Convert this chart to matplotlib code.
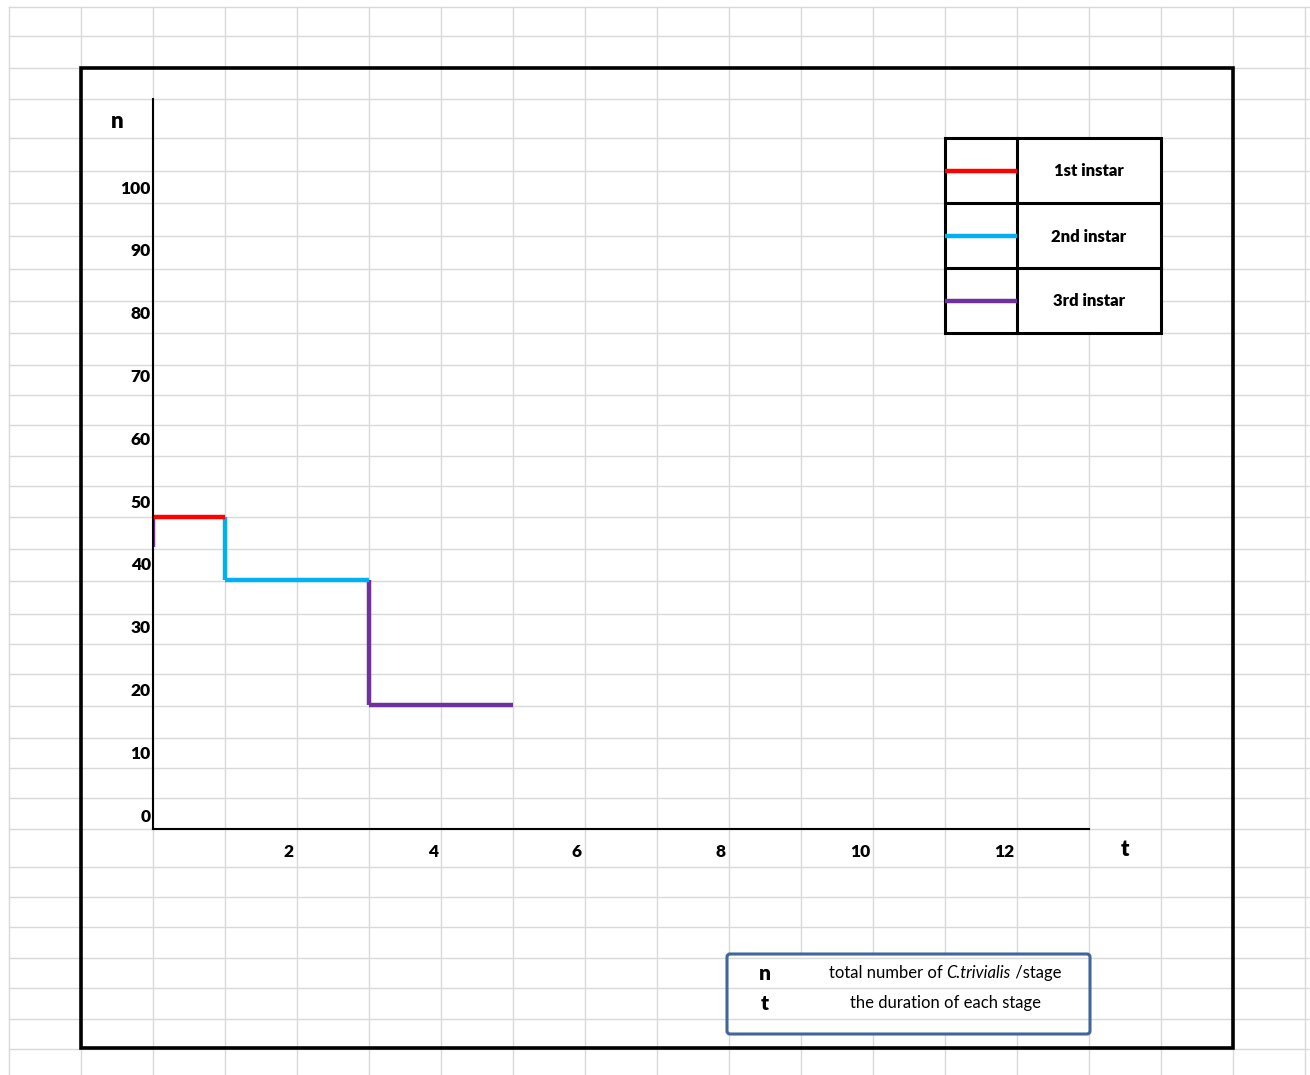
import matplotlib
matplotlib.use('Agg')
import matplotlib.pyplot as plt
from matplotlib import transforms as mtransforms
from matplotlib.patches import Rectangle, FancyBboxPatch

plt.rcParams['font.family'] = ['Lato', 'DejaVu Sans']

# ---------------- data ----------------
stages = ['1st instar', '2nd instar', '3rd instar']
stage_start = [0, 1, 3]
stage_end = [1, 3, 5]
stage_n = [47.5, 37.5, 17.5]
stage_colors = ['#ff0000', '#00b0f0', '#7030a0']
stray_seg = [47.5, 42.6]          # short purple piece lying on the n axis

y_ticks = [0, 10, 20, 30, 40, 50, 60, 70, 80, 90, 100]
x_ticks = [2, 4, 6, 8, 10, 12]
x_labels = ['2', '4', '6', '8', '10', '12']

note_keys = ['n', 't']
# each note is split in pieces: (text, style)
note_parts = [[('total number of ', 'normal'), ('C.trivialis', 'italic'), (' /stage', 'normal')],
              [('the duration of each stage', 'normal')]]

# ---------------- sheet layout (pixels) ----------------
W, H = 1310, 1075
cols = [9 + 72 * k for k in range(19)]
rows = [7, 36, 68, 99, 138, 171, 203, 236, 269, 301, 333, 365, 395, 425, 456,
        486, 517, 549, 581, 614, 644, 674, 706, 738, 768, 798, 829, 867, 897,
        927, 958, 988, 1019, 1049]
GRID = '#d9d9d9'
BOLD = 'heavy'

fig = plt.figure(figsize=(W / 100, H / 100), dpi=100)
bg = fig.add_axes([0, 0, 1, 1])
bg.set_xlim(0, W)
bg.set_ylim(H, 0)
bg.axis('off')

# spreadsheet grid (merged cells of the note box hide the column lines)
box_l, box_r, box_t, box_b = 727, 1090, 954, 1034
for x in cols:
    if box_l < x < box_r:
        bg.plot([x, x], [rows[0], box_t], color=GRID, lw=1.0, zorder=1)
        bg.plot([x, x], [box_b, H], color=GRID, lw=1.0, zorder=1)
    else:
        bg.plot([x, x], [rows[0], H], color=GRID, lw=1.0, zorder=1)
for y in rows:
    bg.plot([cols[0], W], [y, y], color=GRID, lw=1.0, zorder=1)

# outer frame
bg.add_patch(Rectangle((81, 68), 1233 - 81, 1048 - 68, fill=False,
                       edgecolor='black', lw=2.6, zorder=3))

# axis titles
bg.text(117, 121, 'n', fontsize=16, fontweight=BOLD, ha='center', va='center')
bg.text(1125, 850, 't', fontsize=16, fontweight=BOLD, ha='center', va='center')

# ---------------- chart ----------------
px0, px1 = 153, 1089
py_top, py_bot = 99, 829
ax = fig.add_axes([px0 / W, 1 - py_bot / H, (px1 - px0) / W, (py_bot - py_top) / H])
ax.patch.set_alpha(0)
ax.set_xlim(0, 13)
ax.set_ylim((815 - py_bot) / 6.28, (815 - py_top) / 6.28)

prev = None
for s, e, n, c in zip(stage_start, stage_end, stage_n, stage_colors):
    ax.plot([s, e], [n, n], color=c, lw=3.2, solid_capstyle='butt', zorder=4)
    if prev is not None:
        ax.plot([s, s], [prev, n], color=c, lw=3.2, solid_capstyle='butt', zorder=3)
    prev = n
ax.plot([0, 0], stray_seg, color=stage_colors[2], lw=3.2, solid_capstyle='butt', zorder=2)

for side in ['top', 'right']:
    ax.spines[side].set_visible(False)
for side in ['left', 'bottom']:
    ax.spines[side].set_color('black')
    ax.spines[side].set_linewidth(1.5)
    ax.spines[side].set_zorder(5)

ax.set_yticks(y_ticks)
ax.set_yticklabels([str(v) for v in y_ticks], fontsize=12.5, fontweight=BOLD)
ax.tick_params(axis='y', length=0, pad=1.5)
ax.set_xticks([])
lab_tr = mtransforms.offset_copy(ax.get_xaxis_transform(), x=-3, y=-23, units='dots')
for xv, lab in zip(x_ticks, x_labels):
    ax.text(xv, 0, lab, transform=lab_tr, fontsize=12.5, fontweight=BOLD,
            ha='right', va='center')

# ---------------- legend (table style) ----------------
lg_l, lg_m, lg_r = 945, 1017, 1161
lg_rows = [138, 203, 268, 333]
bg.add_patch(Rectangle((lg_l, lg_rows[0]), lg_r - lg_l, lg_rows[-1] - lg_rows[0],
                       facecolor='white', edgecolor='black', lw=2.2, zorder=5))
bg.plot([lg_m, lg_m], [lg_rows[0], lg_rows[-1]], color='black', lw=2.2, zorder=6)
for y in lg_rows[1:-1]:
    bg.plot([lg_l, lg_r], [y, y], color='black', lw=2.2, zorder=6)
for i, (name, c) in enumerate(zip(stages, stage_colors)):
    yc = (lg_rows[i] + lg_rows[i + 1]) / 2
    bg.plot([lg_l, lg_m], [yc, yc], color=c, lw=3.2, solid_capstyle='butt', zorder=7)
    bg.text((lg_m + lg_r) / 2, yc + 1, name, fontsize=12, fontweight=BOLD,
            ha='center', va='center', zorder=7)

# ---------------- note box ----------------
bg.add_patch(FancyBboxPatch((box_l, box_t), box_r - box_l, box_b - box_t,
                            boxstyle='round,pad=0,rounding_size=3',
                            facecolor='none', edgecolor='#41679a', lw=2.2, zorder=5))
renderer = fig.canvas.get_renderer()
inv = bg.transData.inverted()
for i, (k, parts) in enumerate(zip(note_keys, note_parts)):
    yc = 973 + 30 * i
    bg.text(765, yc, k, fontsize=15, fontweight=BOLD, ha='center', va='center')
    pieces, x = [], 0
    for txt, style in parts:
        t = bg.text(x, yc, txt, fontsize=12, style=style, ha='left', va='center')
        ext = t.get_window_extent(renderer)
        w = inv.transform((ext.x1, 0))[0] - inv.transform((ext.x0, 0))[0]
        pieces.append((t, w))
        x += w
    x0 = 945 - x / 2
    for t, w in pieces:
        t.set_x(x0)
        x0 += w

fig.savefig('out.png', dpi=100)
